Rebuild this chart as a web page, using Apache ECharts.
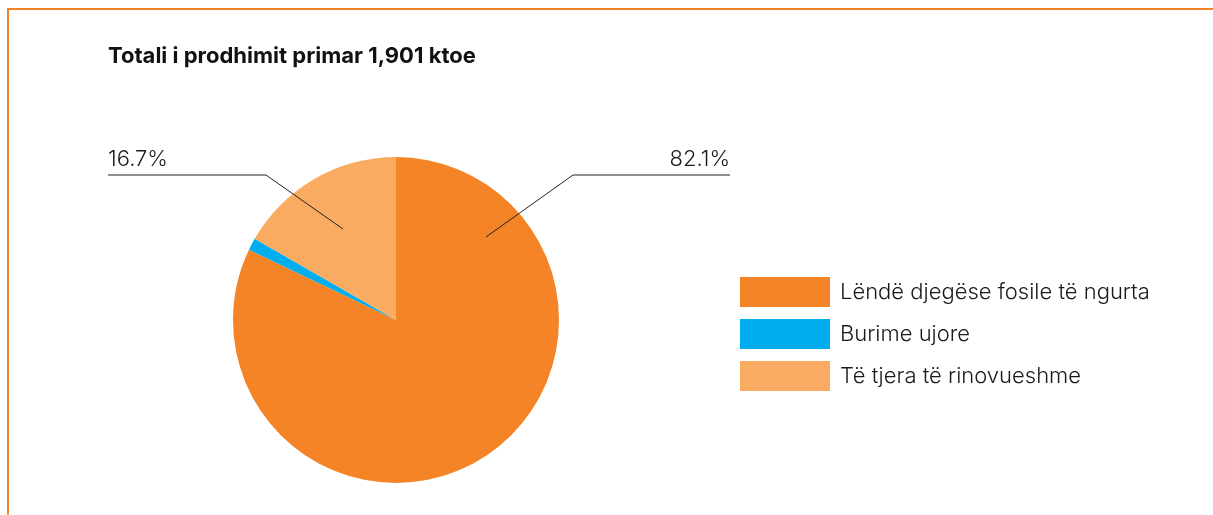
<!DOCTYPE html>
<html>
<head>
<meta charset="utf-8" />
<title>Totali i prodhimit primar</title>
<script src="https://cdn.jsdelivr.net/npm/echarts@6/dist/echarts.min.js"></script>
<style type="text/css">
html, body { margin: 0; padding: 0; background: #fff; }
#wrap { position: relative; width: 1213px; height: 515px; overflow: hidden; }
#frame { position: absolute; left: 7px; top: 8px; width: 1220px; height: 520px;
         border-top: 2px solid #F58426; border-left: 2px solid #F58426; }
#main { position: absolute; left: 0; top: 0; width: 1213px; height: 515px; }
</style>
</head>
<body>
<div id="wrap">
    <div id="frame"></div>
    <div id="main"></div>
</div>
<script type="text/javascript">

// data (percent of total primary production, 1,901 ktoe)
var categories = ['Lëndë djegëse fosile të ngurta', 'Burime ujore', 'Të tjera të rinovueshme'];
var shares = [82.1, 1.2, 16.7];
var colors = ['#F58426', '#00AEEF', '#F9AC61'];
var showLabel = [true, false, true];

var myChart = echarts.init(document.getElementById('main'));

var pieData = [];
var labelData = [];
for (var i = 0; i < categories.length; i++) {
    pieData.push({
        name: categories[i],
        value: shares[i],
        itemStyle: { color: colors[i] }
    });
    labelData.push({
        name: categories[i],
        value: shares[i],
        label: { show: showLabel[i] },
        labelLine: { show: showLabel[i] }
    });
}

// hand placed leader lines, like the original
var labelSpots = {
    0: { x: 730, y: 170, align: 'right', pts: [[486, 237], [573, 175], [730, 175]] },
    2: { x: 108, y: 170, align: 'left', pts: [[343, 229], [266, 175], [108, 175]] }
};

var option = {
    animation: false,
    title: {
        text: 'Totali i prodhimit primar 1,901 ktoe',
        left: 103,
        top: 40,
        textStyle: {
            fontFamily: 'Inter',
            fontWeight: 'bold',
            fontSize: 22,
            color: '#111'
        }
    },
    legend: {
        orient: 'vertical',
        left: 735,
        top: 272,
        itemWidth: 90,
        itemHeight: 30,
        itemGap: 12,
        icon: 'rect',
        selectedMode: false,
        data: categories,
        textStyle: {
            fontFamily: 'Inter',
            fontWeight: 300,
            fontSize: 22,
            color: '#1a1a1a',
            padding: [0, 0, 0, 5]
        }
    },
    series: [
        {
            name: 'Prodhimi primar',
            type: 'pie',
            center: [396, 320],
            radius: 163,
            startAngle: 90,
            clockwise: true,
            silent: true,
            label: { show: false },
            labelLine: { show: false },
            data: pieData
        },
        {
            // transparent copy on top, only for the labels and leader lines
            name: 'etiketa',
            type: 'pie',
            z: 5,
            center: [396, 320],
            radius: 163,
            startAngle: 90,
            clockwise: true,
            silent: true,
            legendHoverLink: false,
            itemStyle: { color: 'rgba(0,0,0,0)' },
            label: {
                show: true,
                position: 'outside',
                formatter: '{c}%',
                fontFamily: 'Inter',
                fontWeight: 300,
                fontSize: 22,
                color: '#1a1a1a'
            },
            labelLine: {
                show: true,
                lineStyle: { color: '#222', width: 1 }
            },
            labelLayout: function (params) {
                var s = labelSpots[params.dataIndex];
                if (!s) return {};
                return {
                    x: s.x,
                    y: s.y,
                    align: s.align,
                    verticalAlign: 'bottom',
                    labelLinePoints: s.pts
                };
            },
            data: labelData
        }
    ]
};

myChart.setOption(option);

</script>
</body>
</html>
